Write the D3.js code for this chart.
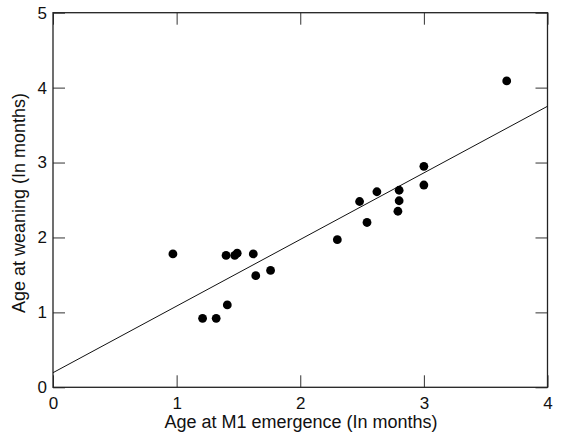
<!DOCTYPE html>
<html>
<head>
<meta charset="utf-8">
<script src="https://cdn.jsdelivr.net/npm/d3@7"></script>
<style>
  body { margin: 0; background: #fff; }
  svg { display: block; font-family: "Liberation Sans", Arial, sans-serif; }
</style>
</head>
<body>
<svg id="chart" width="561" height="438"></svg>
<script>
// age at M1 emergence (months)
const m1Age = [0.97, 1.21, 1.32, 1.41, 1.40, 1.47, 1.49, 1.62, 1.64, 1.76,
               2.30, 2.48, 2.54, 2.62, 2.79, 2.80, 2.80, 3.00, 3.00, 3.67];
// age at weaning (months)
const weanAge = [1.78, 0.92, 0.92, 1.10, 1.76, 1.76, 1.79, 1.78, 1.49, 1.56,
                 1.97, 2.48, 2.20, 2.61, 2.35, 2.49, 2.63, 2.95, 2.70, 4.09];
// fitted line
const fitIntercept = 0.195;
const fitSlope = 0.889;
const xTicks = [0, 1, 2, 3, 4];
const yTicks = [0, 1, 2, 3, 4, 5];

const plotLeft = 53, plotRight = 547.5, plotTop = 12.7, plotBottom = 387.3;

const svg = d3.select("#chart");

const x = d3.scaleLinear().domain([0, 4]).range([plotLeft, plotRight]);
const y = d3.scaleLinear().domain([0, 5]).range([plotBottom, plotTop]);

// ticks point inward on all four sides
function styleAxis(g) {
  g.select(".domain").remove();
  g.selectAll(".tick line").attr("stroke", "#333");
  g.selectAll(".tick text").attr("fill", "#111").attr("font-size", 17);
}

svg.append("g")
  .attr("transform", "translate(0," + plotBottom + ")")
  .call(d3.axisBottom(x).tickValues(xTicks).tickSize(-12).tickPadding(10).tickFormat(d3.format("d")))
  .call(styleAxis);

svg.append("g")
  .attr("transform", "translate(0," + plotTop + ")")
  .call(d3.axisTop(x).tickValues(xTicks).tickSize(-12).tickFormat(""))
  .call(styleAxis);

svg.append("g")
  .attr("transform", "translate(" + plotLeft + ",0)")
  .call(d3.axisLeft(y).tickValues(yTicks).tickSize(-12).tickPadding(6).tickFormat(d3.format("d")))
  .call(styleAxis);

svg.append("g")
  .attr("transform", "translate(" + plotRight + ",0)")
  .call(d3.axisRight(y).tickValues(yTicks).tickSize(-12).tickFormat(""))
  .call(styleAxis);

// frame
svg.append("rect")
  .attr("x", plotLeft).attr("y", plotTop)
  .attr("width", plotRight - plotLeft).attr("height", plotBottom - plotTop)
  .attr("fill", "none")
  .attr("stroke", "#222")
  .attr("stroke-width", 1.3);

// regression line
svg.append("line")
  .attr("x1", x(0)).attr("y1", y(fitIntercept))
  .attr("x2", x(4)).attr("y2", y(fitIntercept + fitSlope * 4))
  .attr("stroke", "#111")
  .attr("stroke-width", 1);

// points
svg.selectAll("circle.pt")
  .data(m1Age.map((d, i) => [d, weanAge[i]]))
  .enter()
  .append("circle")
  .attr("class", "pt")
  .attr("cx", d => x(d[0]))
  .attr("cy", d => y(d[1]))
  .attr("r", 4.4)
  .attr("fill", "#000");

// axis titles
svg.append("text")
  .attr("x", 301)
  .attr("y", 428)
  .attr("text-anchor", "middle")
  .attr("font-size", 18)
  .attr("fill", "#111")
  .text("Age at M1 emergence (In months)");

svg.append("text")
  .attr("transform", "translate(25,203) rotate(-90)")
  .attr("text-anchor", "middle")
  .attr("font-size", 18)
  .attr("fill", "#111")
  .text("Age at weaning (In months)");
</script>
</body>
</html>
